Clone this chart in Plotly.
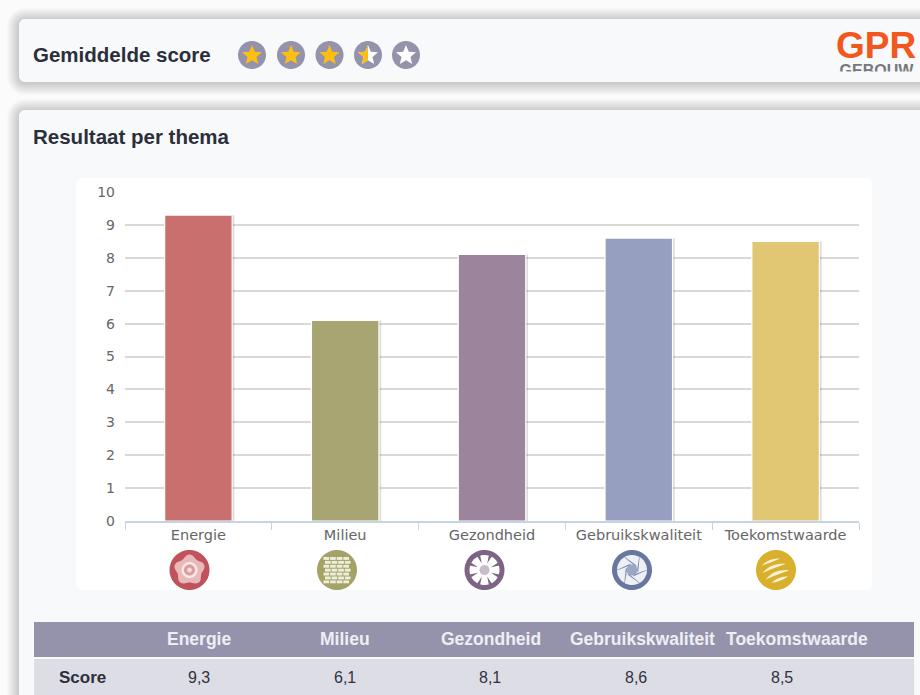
import math
import plotly.graph_objects as go

categories = ["Energie", "Milieu", "Gezondheid", "Gebruikskwaliteit", "Toekomstwaarde"]
scores = [9.3, 6.1, 8.1, 8.6, 8.5]
bar_colors = ["#c9706e", "#a8a572", "#9c859c", "#969fc0", "#e1c673"]
y_ticks = list(range(0, 11))
row_label = "Score"
header_x = [199, 345, 491, 642, 797]
value_x = [199, 345, 490, 636, 782]

W, H = 920, 695
PANEL = "#f8f9fb"
HEAD = "#9593ab"
ROW = "#dddde6"
SANS = "Liberation Sans, Arial, sans-serif"
DEJA = "DejaVu Sans, Verdana, sans-serif"


def px(x):
    return x / W


def py(y):
    return 1 - y / H


def poly(points, fill, layer="below", opacity=1):
    d = "M" + " L".join(f"{px(x):.5f},{py(y):.5f}" for x, y in points) + " Z"
    return dict(type="path", xref="paper", yref="paper", path=d, fillcolor=fill,
                line=dict(width=0), layer=layer, opacity=opacity)


def rrect(x0, y0, x1, y1, r, fill, opacity=1, layer="below"):
    pts = []
    for cx, cy, a0 in [(x1 - r, y0 + r, -90), (x1 - r, y1 - r, 0), (x0 + r, y1 - r, 90), (x0 + r, y0 + r, 180)]:
        for i in range(7):
            a = math.radians(a0 + i * 15)
            pts.append((cx + r * math.cos(a), cy + r * math.sin(a)))
    return poly(pts, fill, layer, opacity)


def circ(cx, cy, r, fill, layer="below"):
    pts = [(cx + r * math.cos(math.radians(a)), cy + r * math.sin(math.radians(a))) for a in range(0, 360, 8)]
    return poly(pts, fill, layer)


def star(cx, cy, R, fill, half=False):
    pts = []
    for i in range(10):
        rad = R if i % 2 == 0 else R * 0.45
        a = math.radians(-90 + i * 36)
        pts.append((cx + rad * math.cos(a), cy + rad * math.sin(a)))
    if half:
        pts = [(min(x, cx), y) for x, y in pts]
    return poly(pts, fill)


shapes = []
# panel shadows and panels
for (x0, y0, x1, y1) in [(19, 19, 960, 82), (19, 110, 960, 760)]:
    for k in range(12, 0, -1):
        shapes.append(rrect(x0 - k, y0 - k + 1, x1 + k, y1 + k + 1, 6 + k, "#000000", 0.014))
    shapes.append(rrect(x0, y0, x1, y1, 6, PANEL))

# chart card and table bands
shapes.append(rrect(76, 178, 872, 590, 7, "#ffffff"))
shapes.append(poly([(34, 622), (914, 622), (914, 657), (34, 657)], HEAD))
shapes.append(poly([(34, 659), (914, 659), (914, 695), (34, 695)], ROW))

# rating stars
for i, cx in enumerate([252, 291, 329.5, 368, 406]):
    shapes.append(circ(cx, 55, 14, HEAD))
    if i < 3:
        shapes.append(star(cx, 55.5, 10.5, "#fdbf0f"))
    elif i == 3:
        shapes.append(star(cx, 55.5, 10.5, "#ffffff"))
        shapes.append(star(cx, 55.5, 10.5, "#fdbf0f", half=True))
    else:
        shapes.append(star(cx, 55.5, 10.5, "#ffffff"))

# theme icons
iy = 570
# Energie
ex = 189.5
shapes.append(circ(ex, iy, 20, "#c0525c"))
shapes.append(poly([(ex + (14 + 1.6 * math.cos(math.radians(5 * a))) * math.cos(math.radians(a - 90)),
                     iy + (14 + 1.6 * math.cos(math.radians(5 * a))) * math.sin(math.radians(a - 90)))
                    for a in range(0, 360, 6)], "#e9b9b9"))
shapes.append(circ(ex, iy, 8, "#f8e8e8"))
shapes.append(circ(ex, iy, 5.5, "#dd9c9c"))
shapes.append(circ(ex, iy, 2.4, "#f4dcdc"))
# Milieu
mx = 337
shapes.append(circ(mx, iy, 20, "#a3a267"))
for r_i in range(7):
    yy = iy - 13 + r_i * 3.9
    for c_i in range(4):
        xx = mx - 13.5 + c_i * 6.6 + (r_i % 2) * 1.5
        shapes.append(poly([(xx, yy), (xx + 5.7, yy), (xx + 5.7, yy + 2.9), (xx, yy + 2.9)], "#eeeedd"))
# Gezondheid
gx = 484.5
shapes.append(circ(gx, iy, 20, "#7d6384"))
shapes.append(circ(gx, iy, 15, "#ffffff"))
for a in range(0, 360, 45):
    c, s = math.cos(math.radians(a + 22.5)), math.sin(math.radians(a + 22.5))
    shapes.append(poly([(gx + c * 15.5 - s * 1.6, iy + s * 15.5 + c * 1.6), (gx + c * 15.5 + s * 1.6, iy + s * 15.5 - c * 1.6),
                        (gx + c * 7, iy + s * 7)], "#7d6384"))
shapes.append(circ(gx, iy, 5, "#c9bccd"))
# Gebruikskwaliteit
bx = 632
shapes.append(circ(bx, iy, 20, "#67779f"))
shapes.append(circ(bx, iy, 15, "#eef0f6"))
for a in range(0, 360, 60):
    c, s = math.cos(math.radians(a)), math.sin(math.radians(a))
    c2, s2 = math.cos(math.radians(a + 75)), math.sin(math.radians(a + 75))
    shapes.append(poly([(bx + c * 15.5, iy + s * 15.5), (bx + c2 * 6.5, iy + s2 * 6.5),
                        (bx + c2 * 5, iy + s2 * 5), (bx + c * 14, iy + s * 14)], "#67779f", opacity=0.8))
shapes.append(circ(bx, iy, 5.5, "#9aa6c4"))
# Toekomstwaarde
tx = 776
shapes.append(circ(tx, iy, 20, "#d9b02e"))
for off, thick, length in [(-11, 2.4, 10), (-5, 3.0, 13), (2, 3.2, 13), (9, 2.8, 9)]:
    pts = []
    for t in range(-5, 6):
        u = t / 5 * length
        v = off + 0.02 * u * u
        pts.append((tx + u * 0.9 + v * 0.45 - 1, iy + v * 0.9 - u * 0.35))
    for t in range(5, -6, -1):
        u = t / 5 * length
        v = off + 0.02 * u * u + thick * (1 - (t / 5) ** 2)
        pts.append((tx + u * 0.9 + v * 0.45 - 1, iy + v * 0.9 - u * 0.35))
    shapes.append(poly(pts, "#fbf3d6"))

# logo cover (clips the bottom of the small logo word)
shapes.append(dict(type="rect", xref="paper", yref="paper", x0=px(830), x1=px(920), y0=py(81), y1=py(71.5),
                   fillcolor=PANEL, line=dict(width=0), layer="above"))

fig = go.Figure()
fig.add_trace(go.Bar(x=categories, y=scores, width=0.47, offset=-0.225,
                     marker=dict(color="rgba(60,60,60,0.18)", line=dict(width=0)), hoverinfo="skip"))
fig.add_trace(go.Bar(x=categories, y=scores, width=0.46, offset=-0.23,
                     marker=dict(color=bar_colors, line=dict(color="#ffffff", width=1.2)),
                     hovertemplate="%{x}: %{y}<extra></extra>"))
fig.add_trace(go.Scatter(x=[876.5], y=[71.5], xaxis="x2", yaxis="y2", mode="text", text=["<b>GEBOUW</b>"],
                         textposition="middle center", cliponaxis=False,
                         textfont=dict(family=SANS, size=16, color="#77787b"), hoverinfo="skip"))

annotations = [
    dict(x=px(32), y=py(55), text="<b>Gemiddelde score</b>", xanchor="left", yanchor="middle",
         font=dict(family=SANS, size=20.5, color="#2b2f3a")),
    dict(x=px(32), y=py(136.5), text="<b>Resultaat per thema</b>", xanchor="left", yanchor="middle",
         font=dict(family=SANS, size=20.5, color="#2b2f3a")),
    dict(x=px(835), y=py(46), text="<b>GPR</b>", xanchor="left", yanchor="middle",
         font=dict(family=SANS, size=37, color="#f2581e")),
    dict(x=px(82), y=py(677), text=f"<b>{row_label}</b>", xanchor="center", yanchor="middle",
         font=dict(family=SANS, size=17, color="#2b2f3a")),
]
for name, hx, score, vx in zip(categories, header_x, scores, value_x):
    annotations.append(dict(x=px(hx), y=py(639), text=f"<b>{name}</b>", xanchor="center", yanchor="middle",
                            font=dict(family=SANS, size=17.5, color="#eeeef5")))
    annotations.append(dict(x=px(vx), y=py(677), text=f"{score:.1f}".replace(".", ","), xanchor="center",
                            yanchor="middle", font=dict(family=SANS, size=16, color="#2f3340")))
for a in annotations:
    a.update(xref="paper", yref="paper", showarrow=False, borderpad=0)

fig.update_layout(
    width=W, height=H, margin=dict(l=0, r=0, t=0, b=0, pad=0), autosize=False,
    paper_bgcolor="#fbfbfc", plot_bgcolor="rgba(0,0,0,0)", barmode="overlay", showlegend=False,
    shapes=shapes, annotations=annotations,
    xaxis=dict(domain=[px(125), px(859)], type="category", categoryorder="array", categoryarray=categories,
               range=[-0.5, 4.5], tickson="boundaries", ticks="outside", ticklen=7, tickwidth=1.2,
               tickcolor="#c5d3e3", showline=True, linecolor="#c5d3e3", linewidth=1.5, showgrid=False,
               zeroline=False, automargin=False, tickfont=dict(family=DEJA, size=14.5, color="#666666")),
    yaxis=dict(domain=[py(521), py(192)], range=[0, 10], tickvals=y_ticks, ticks="", showline=False,
               gridcolor="#d8d8d8", gridwidth=1.5, zeroline=False, ticklabelstandoff=9, automargin=False,
               tickfont=dict(family=DEJA, size=14, color="#666666")),
    xaxis2=dict(domain=[0, 1], range=[0, W], visible=False, anchor="y2", fixedrange=True),
    yaxis2=dict(domain=[0, 1], range=[H, 0], visible=False, anchor="x2", fixedrange=True),
)
fig.write_html("out.html", config=dict(displayModeBar=False),
               post_script="document.body.style.margin='0';document.documentElement.style.overflow='hidden';")
